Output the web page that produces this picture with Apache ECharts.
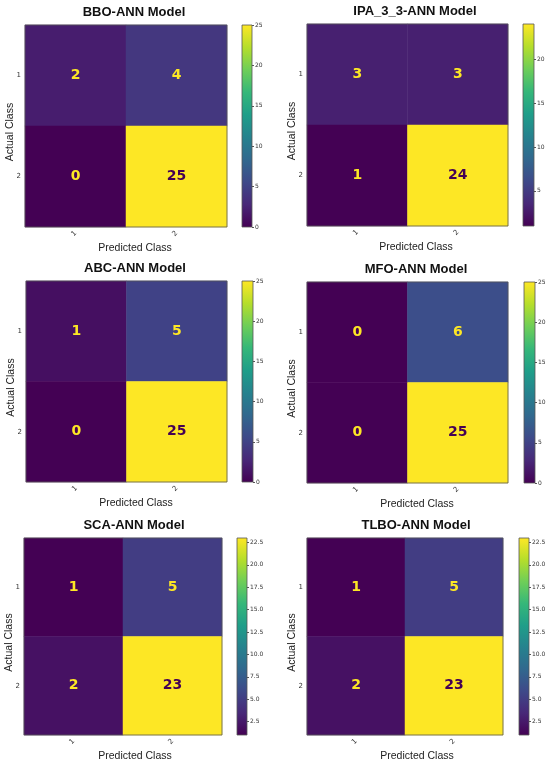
<!DOCTYPE html>
<html>
<head>
<meta charset="utf-8">
<title>Confusion matrices</title>
<style>
  html, body { margin: 0; padding: 0; background: #fff; }
  #chart { width: 550px; height: 765px; }
</style>
</head>
<body>
<div id="chart"></div>
<script src="https://cdn.jsdelivr.net/npm/echarts@6/dist/echarts.min.js"></script>
<script>
// --- data ---
var classes = ['1', '2'];
var modelNames = ['BBO-ANN Model', 'IPA_3_3-ANN Model', 'ABC-ANN Model', 'MFO-ANN Model', 'SCA-ANN Model', 'TLBO-ANN Model'];
// rows = actual class, cols = predicted class
var bbo = [[2, 4], [0, 25]];
var ipa = [[3, 3], [1, 24]];
var abc = [[1, 5], [0, 25]];
var mfo = [[0, 6], [0, 25]];
var sca = [[1, 5], [2, 23]];
var tlbo = [[1, 5], [2, 23]];
var matrices = [bbo, ipa, abc, mfo, sca, tlbo];
// colorbar ticks
var ticksA = [0, 5, 10, 15, 20, 25];
var ticksB = [5, 10, 15, 20];
var ticksC = [2.5, 5, 7.5, 10, 12.5, 15, 17.5, 20, 22.5];
var cbTicks = [ticksA, ticksB, ticksA, ticksA, ticksC, ticksC];
var cbDecimals = [0, 0, 0, 0, 1, 1];

// --- layout ---
var boxes = [
  { l: 25, t: 25, w: 202, h: 202, cb: 242, cbw: 10, tx: 134 },
  { l: 307, t: 24, w: 201, h: 202, cb: 523, cbw: 11, tx: 415 },
  { l: 26, t: 281, w: 201, h: 201, cb: 242, cbw: 11, tx: 135 },
  { l: 307, t: 282, w: 201, h: 201, cb: 524, cbw: 11, tx: 416 },
  { l: 24, t: 538, w: 198, h: 197, cb: 237, cbw: 10, tx: 134 },
  { l: 307, t: 538, w: 196, h: 197, cb: 519, cbw: 10, tx: 416 }
];
var viridis = ['#440154', '#482878', '#3e4989', '#31688e', '#26828e', '#1f9e89', '#35b779', '#6ece58', '#b5de2b', '#fde725'];

var grids = [], xAxes = [], yAxes = [], series = [], visualMaps = [], titles = [], graphics = [];
var axisGray = '#555';

matrices.forEach(function (m, i) {
  var b = boxes[i];
  var flat = m[0].concat(m[1]);
  var vmin = Math.min.apply(null, flat), vmax = Math.max.apply(null, flat);
  var gi = grids.length;

  // heatmap grid
  grids.push({ left: b.l, top: b.t, width: b.w, height: b.h, show: true, z: 5,
    borderColor: axisGray, borderWidth: 0.8, backgroundColor: 'transparent' });
  xAxes.push({ type: 'category', gridIndex: gi, data: classes, position: 'bottom',
    axisLine: { show: false }, splitArea: { show: false },
    axisTick: { alignWithLabel: true, length: 3, lineStyle: { color: axisGray } },
    axisLabel: { rotate: 45, fontSize: 7, color: '#333', fontFamily: 'DejaVu Sans', margin: 5 } });
  yAxes.push({ type: 'category', gridIndex: gi, data: classes, inverse: true,
    axisLine: { show: false }, splitArea: { show: false },
    axisTick: { alignWithLabel: true, length: 3, lineStyle: { color: axisGray } },
    axisLabel: { fontSize: 7, color: '#333', fontFamily: 'DejaVu Sans', margin: 4 } });

  var cells = [];
  for (var r = 0; r < 2; r++) {
    for (var c = 0; c < 2; c++) {
      var v = m[r][c];
      cells.push({ value: [c, r, v],
        label: { color: v > (vmin + vmax) / 2 ? '#440154' : '#fde725' } });
    }
  }
  visualMaps.push({ type: 'continuous', show: false, min: vmin, max: vmax, dimension: 2,
    seriesIndex: series.length, inRange: { color: viridis } });
  series.push({ type: 'heatmap', xAxisIndex: gi, yAxisIndex: gi, data: cells,
    label: { show: true, fontSize: 14, fontWeight: 'bold', fontFamily: 'DejaVu Sans' },
    emphasis: { disabled: true }, silent: true });

  // colorbar grid
  var ci = grids.length;
  var dec = cbDecimals[i];
  grids.push({ left: b.cb, top: b.t, width: b.cbw, height: b.h, show: true, z: 5,
    borderColor: axisGray, borderWidth: 0.8, backgroundColor: 'transparent' });
  xAxes.push({ type: 'category', gridIndex: ci, data: ['cb'], show: false });
  yAxes.push({ type: 'value', gridIndex: ci, min: vmin, max: vmax, position: 'right',
    axisLine: { show: false }, splitLine: { show: false },
    axisTick: { show: true, length: 2, customValues: cbTicks[i], lineStyle: { color: axisGray } },
    axisLabel: { fontSize: 6, color: '#333', fontFamily: 'DejaVu Sans', margin: 3,
      customValues: cbTicks[i],
      formatter: function (v) { return Number(v).toFixed(dec); } } });
  series.push({ type: 'line', xAxisIndex: ci, yAxisIndex: ci, data: [], silent: true,
    markArea: { silent: true,
      itemStyle: { opacity: 1, color: { type: 'linear', x: 0, y: 1, x2: 0, y2: 0,
        colorStops: viridis.map(function (col, k) { return { offset: k / (viridis.length - 1), color: col }; }) } },
      data: [[{ yAxis: vmin }, { yAxis: vmax }]] } });

  // texts
  titles.push({ text: modelNames[i], left: b.tx, top: b.t - 19, textAlign: 'center', padding: 0,
    textStyle: { fontFamily: 'Liberation Sans', fontWeight: 'bold', fontSize: 13, color: '#111' } });
  titles.push({ text: 'Predicted Class', left: b.tx + 1, top: b.t + b.h + 16, textAlign: 'center', padding: 0,
    textStyle: { fontFamily: 'Liberation Sans', fontWeight: 'normal', fontSize: 10.5, color: '#222' } });
  graphics.push({ type: 'text', x: b.l - 15, y: b.t + b.h / 2 + 6, rotation: Math.PI / 2,
    style: { text: 'Actual Class', font: '10.5px "Liberation Sans"', fill: '#222',
      textAlign: 'center', textVerticalAlign: 'middle' } });
});

var chart = echarts.init(document.getElementById('chart'));
chart.setOption({
  animation: false,
  backgroundColor: '#fff',
  title: titles,
  grid: grids,
  xAxis: xAxes,
  yAxis: yAxes,
  visualMap: visualMaps,
  series: series,
  graphic: graphics
});
</script>
</body>
</html>
